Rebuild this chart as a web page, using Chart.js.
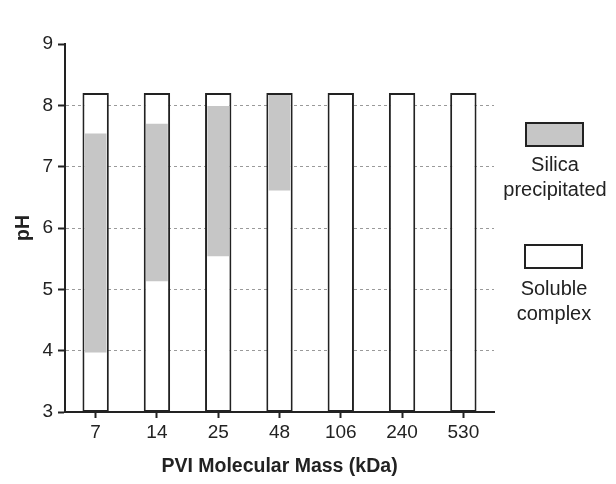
<!DOCTYPE html>
<html>
<head>
<meta charset="utf-8">
<script src="https://cdn.jsdelivr.net/npm/chart.js@4"></script>
<style>
  body { margin: 0; background: #fff; }
  #wrap { position: relative; width: 616px; height: 484px; font-family: 'Liberation Sans', Arial, sans-serif; color: #222; }
  .key { position: absolute; box-sizing: border-box; width: 59px; height: 25px; border: 2px solid #222; }
  .key-label { position: absolute; width: 130px; text-align: center; font-size: 20px; line-height: 25px; }
</style>
</head>
<body>
<div id="wrap">
  <canvas id="chart" width="616" height="484"></canvas>
  <div class="key" style="left:525px; top:122px; background:#c6c6c6;"></div>
  <div class="key-label" id="label-silica" style="left:490px; top:152px;"></div>
  <div class="key" style="left:524px; top:244px; background:#fff;"></div>
  <div class="key-label" id="label-soluble" style="left:489px; top:276px;"></div>
</div>
<script>
// PVI molecular mass categories (kDa)
const categories = ['7', '14', '25', '48', '106', '240', '530'];

// pH range where silica precipitated [low, high]
const precipitatedLow = [3.97, 5.13, 5.54, 6.61, null, null, null];
const precipitatedHigh = [7.54, 7.70, 7.99, 8.17, null, null, null];

// full measured pH range for every sample
const rangeLow = [3, 3, 3, 3, 3, 3, 3];
const rangeHigh = [8.2, 8.2, 8.2, 8.2, 8.2, 8.2, 8.2];

const yTicks = [3, 4, 5, 6, 7, 8, 9];
const gridTicks = [4, 5, 6, 7, 8];

const legendLabels = [['Silica', 'precipitated'], ['Soluble', 'complex']];

document.getElementById('label-silica').innerHTML = legendLabels[0].join('<br>');
document.getElementById('label-soluble').innerHTML = legendLabels[1].join('<br>');

const axisColor = '#222';
const family = "'Liberation Sans', Arial, sans-serif";
const tickFont = { family: family, size: 19 };
const titleFont = { family: family, size: 19.5, weight: 'bold' };

new Chart(document.getElementById('chart'), {
  type: 'bar',
  data: {
    labels: categories,
    datasets: [
      {
        label: 'Silica precipitated',
        data: precipitatedLow.map((lo, i) => lo == null ? null : [lo, precipitatedHigh[i]]),
        backgroundColor: '#c6c6c6',
        borderWidth: 0,
        barPercentage: 0.355,
        categoryPercentage: 1
      },
      {
        label: 'Soluble complex',
        data: rangeLow.map((lo, i) => [lo, rangeHigh[i]]),
        backgroundColor: '#fff',
        borderColor: axisColor,
        borderWidth: 2,
        borderSkipped: false,
        barPercentage: 0.43,
        categoryPercentage: 1
      }
    ]
  },
  options: {
    responsive: false,
    animation: false,
    layout: { padding: { top: 44, right: 122, bottom: 0, left: 0 } },
    datasets: { bar: { grouped: false } },
    plugins: {
      legend: { display: false },
      tooltip: { enabled: false }
    },
    scales: {
      x: {
        afterFit: s => { s.height = 72; },
        grid: {
          offset: false,
          drawOnChartArea: false,
          tickLength: 6,
          tickColor: axisColor,
          tickWidth: 2
        },
        border: { color: axisColor, width: 2 },
        ticks: { color: axisColor, font: tickFont, padding: 3 },
        title: {
          display: true,
          text: 'PVI Molecular Mass (kDa)',
          color: axisColor,
          font: titleFont,
          padding: { top: 0, bottom: 6 }
        }
      },
      y: {
        min: 3,
        max: 9,
        afterFit: s => { s.width = 65; },
        afterBuildTicks: s => { s.ticks = yTicks.map(v => ({ value: v })); },
        grid: {
          color: c => gridTicks.includes(c.tick.value) ? '#9a9a9a' : 'rgba(0,0,0,0)',
          lineWidth: 1,
          tickLength: 7,
          tickColor: axisColor,
          tickWidth: 2
        },
        border: { color: axisColor, width: 2, dash: [3, 3] },
        ticks: { color: axisColor, font: tickFont, padding: 5 },
        title: {
          display: true,
          text: 'pH',
          color: axisColor,
          font: titleFont,
          padding: { top: 12, bottom: 0 }
        }
      }
    }
  }
});
</script>
</body>
</html>
